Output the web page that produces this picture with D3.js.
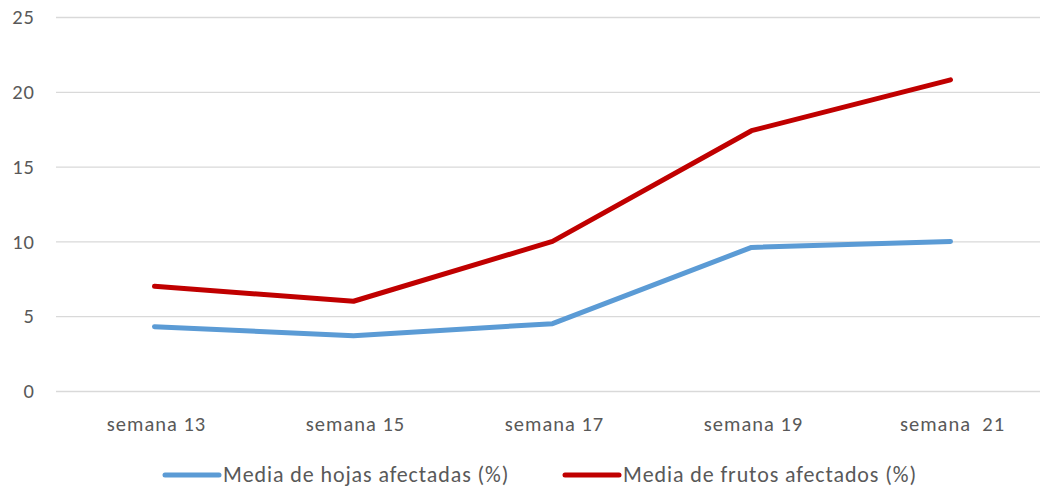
<!DOCTYPE html>
<html lang="es">
  <head>
    <meta charset="UTF-8" />
    <script src="https://d3js.org/d3.v7.min.js"></script>
    <title>Media de hojas y frutos afectados</title>
    <style>
      body {
        margin: 0;
        background: #fff;
      }
      .tick-label {
        font-family: "Carlito", "Open Sans", sans-serif;
        font-size: 20.5px;
        letter-spacing: 1px;
        fill: #595959;
        white-space: pre;
      }
      .legend-label {
        font-family: "Carlito", "Open Sans", sans-serif;
        font-size: 22px;
        letter-spacing: 0.9px;
        fill: #595959;
      }
    </style>
  </head>
  <body>
    <svg id="chart" width="1040" height="488"></svg>

    <script>
      // data
      const semanas = ["semana 13", "semana 15", "semana 17", "semana 19", "semana  21"];
      const hojas = [4.3, 3.7, 4.5, 9.6, 10.0];
      const frutos = [7.0, 6.0, 10.0, 17.4, 20.8];
      const yTicks = [0, 5, 10, 15, 20, 25];
      const seriesNames = ["Media de hojas afectadas (%)", "Media de frutos afectados (%)"];
      const seriesColors = ["#5B9BD5", "#C00000"];

      const svg = d3.select("#chart");

      const x = d3.scaleBand().domain(semanas).range([55, 1050]);
      const y = d3.scaleLinear().domain([0, 25]).range([391, 17]);

      // gridlines
      svg
        .append("g")
        .selectAll("line")
        .data(yTicks)
        .enter()
        .append("line")
        .attr("x1", 56)
        .attr("x2", 1050)
        .attr("y1", (d) => y(d) + 0.5)
        .attr("y2", (d) => y(d) + 0.5)
        .attr("stroke", "#D9D9D9")
        .attr("stroke-width", 1.3);

      // y labels
      svg
        .append("g")
        .selectAll("text")
        .data(yTicks)
        .enter()
        .append("text")
        .attr("class", "tick-label")
        .attr("x", 35)
        .attr("y", (d) => y(d))
        .attr("dy", "0.35em")
        .attr("text-anchor", "end")
        .text((d) => d);

      // x labels
      svg
        .append("g")
        .selectAll("text")
        .data(semanas)
        .enter()
        .append("text")
        .attr("class", "tick-label")
        .attr("x", (d) => x(d) + x.bandwidth() / 2 + 2)
        .attr("y", 431)
        .attr("text-anchor", "middle")
        .text((d) => d);

      const line = d3
        .line()
        .x((d, i) => x(semanas[i]) + x.bandwidth() / 2)
        .y((d) => y(d));

      [hojas, frutos].forEach((vals, k) => {
        svg
          .append("path")
          .datum(vals)
          .attr("d", line)
          .attr("fill", "none")
          .attr("stroke", seriesColors[k])
          .attr("stroke-width", 5)
          .attr("stroke-linecap", "round")
          .attr("stroke-linejoin", "round");
      });

      // legend
      const legendX = [165, 565];
      seriesNames.forEach((name, k) => {
        const g = svg.append("g").attr("transform", `translate(${legendX[k]},475)`);
        g.append("line")
          .attr("x1", 0)
          .attr("x2", 54)
          .attr("stroke", seriesColors[k])
          .attr("stroke-width", 5)
          .attr("stroke-linecap", "round");
        g.append("text")
          .attr("class", "legend-label")
          .attr("x", 58)
          .attr("y", 7)
          .text(name);
      });
    </script>
  </body>
</html>
